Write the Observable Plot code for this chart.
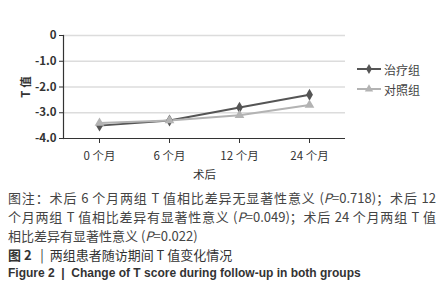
<!DOCTYPE html>
<html><head><meta charset="utf-8">
<script src="https://cdn.jsdelivr.net/npm/d3@7"></script>
<script src="https://cdn.jsdelivr.net/npm/@observablehq/plot@0.6"></script>
<style>
body{margin:0;background:#fff;font-family:"Noto Sans CJK SC","Liberation Sans",sans-serif;}
#wrap{position:relative;width:445px;}
#legend{position:absolute;left:356px;top:59px;font-size:12px;color:#444;}
#legend .it{display:flex;align-items:center;height:20px;}
#legend svg{margin-right:2px;}
#cap{padding:4px 9px 0 8px;color:#444;font-size:13px;line-height:19px;}
#cap .j{text-align:justify;text-align-last:justify;}
#cap .fig{color:#333;}
#cap .en{font-family:"Liberation Sans",sans-serif;font-weight:bold;font-size:12px;color:#333;}
</style></head>
<body><div id="wrap"><div id="chart"></div><div id="legend"></div></div>
<div id="cap">
<div class="j">图注：术后 6 个月两组 T 值相比差异无显著性意义 (<i>P</i>=0.718)；术后 12</div>
<div class="j">个月两组 T 值相比差异有显著性意义 (<i>P</i>=0.049)；术后 24 个月两组 T 值</div>
<div>相比差异有显著性意义 (<i>P</i>=0.022)</div>
<div class="fig"><b>图 2</b> &nbsp;&nbsp;|&nbsp;&nbsp;两组患者随访期间 T 值变化情况</div>
<div class="en">Figure 2 &nbsp;|&nbsp; Change of T score during follow-up in both groups</div>
</div>
<script>
const months = ["0 个月", "6 个月", "12 个月", "24 个月"];
const treatment = [-3.5, -3.3, -2.8, -2.3];
const control = [-3.4, -3.3, -3.1, -2.7];
const seriesNames = ["治疗组", "对照组"];
const yTicks = [0, -1, -2, -3, -4];

const colors = {"治疗组": "#555555", "对照组": "#b3b3b3"};
const symbols = {"治疗组": "diamond", "对照组": "triangle"};
const rows = [];
months.forEach((m, i) => {
  rows.push({month: m, value: treatment[i], series: seriesNames[0]});
  rows.push({month: m, value: control[i], series: seriesNames[1]});
});
const fmt = d => d === 0 ? "0" : d.toFixed(1);

const chart = Plot.plot({
  width: 445, height: 184,
  marginLeft: 63, marginRight: 100, marginTop: 35, marginBottom: 46,
  style: {fontFamily: '"Liberation Sans","Noto Sans CJK SC",sans-serif', fontSize: "11.5px", color: "#333"},
  x: {type: "point", domain: months, padding: 0.5, label: null},
  y: {domain: [-4, 0], ticks: yTicks, tickFormat: fmt, label: null},
  marks: [
    Plot.ruleY(yTicks.slice(0, 4), {stroke: "#dcdcdc", strokeWidth: 1.5}),
    Plot.ruleY([-4], {stroke: "#333", strokeWidth: 1.2}),
    Plot.frame({anchor: "left", stroke: "#333", strokeWidth: 1.2}),
    Plot.axisY({ticks: yTicks, tickFormat: fmt, tickSize: 4, tickPadding: 3, fontWeight: "bold", label: "T 值", labelArrow: "none", labelAnchor: "center", labelOffset: 42, fontFamily: '"Noto Sans CJK SC",sans-serif'}),
    Plot.axisX({tickSize: 5, tickPadding: 8, label: "术后", labelArrow: "none", labelAnchor: "center", labelOffset: 40, fontFamily: '"Noto Sans CJK SC",sans-serif'}),
    Plot.line(rows, {x: "month", y: "value", z: "series", stroke: d => colors[d.series], strokeWidth: 2}),
    Plot.dot(rows, {x: "month", y: "value", symbol: d => symbols[d.series], fill: d => colors[d.series], r: 3.6})
  ]
});
document.getElementById("chart").append(chart);

const leg = d3.select("#legend");
seriesNames.forEach(s => {
  const it = leg.append("div").attr("class", "it");
  const sv = it.append("svg").attr("width", 26).attr("height", 12);
  sv.append("line").attr("x1", 1).attr("x2", 25).attr("y1", 6).attr("y2", 6).attr("stroke", colors[s]).attr("stroke-width", 2);
  sv.append("path").attr("d", d3.symbol(s === "治疗组" ? d3.symbolDiamond : d3.symbolTriangle, 30)()).attr("transform", "translate(13,6)").attr("fill", colors[s]);
  it.append("span").text(s);
});
</script>
</body></html>
